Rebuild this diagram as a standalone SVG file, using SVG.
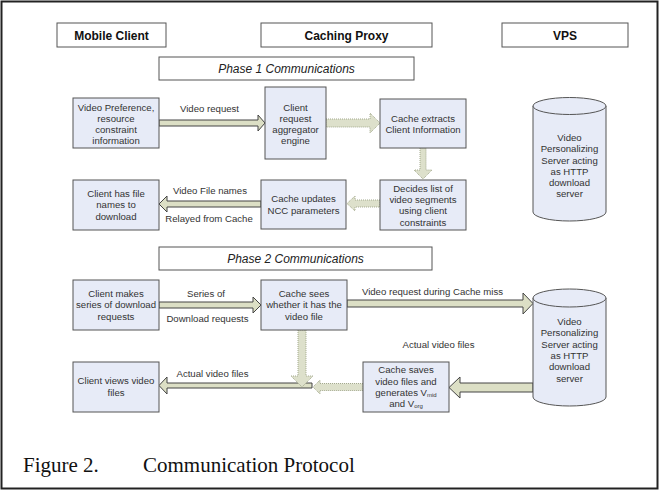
<svg xmlns="http://www.w3.org/2000/svg" width="660" height="492" viewBox="0 0 660 492">
<style>
.hdr{fill:#fff;stroke:#555;stroke-width:1}
.hdrt{font-family:"Liberation Sans",Arial,sans-serif;font-size:12px;font-weight:bold;fill:#111;text-anchor:middle}
.ph{fill:#fff;stroke:#555;stroke-width:1}
.pht{font-family:"Liberation Sans",Arial,sans-serif;font-size:12px;font-style:italic;fill:#222;text-anchor:middle}
.box{fill:#e7ebf7;stroke:#555;stroke-width:1}
.t{font-family:"Liberation Sans",Arial,sans-serif;font-size:9.6px;fill:#333;text-anchor:middle}
.lbl{font-family:"Liberation Sans",Arial,sans-serif;font-size:9.6px;fill:#333;text-anchor:middle}
.sub{font-size:6px}
.arr{fill:#dcdfc5;stroke:#444;stroke-width:1;stroke-linejoin:miter}
.darr{fill:#dde0cb;stroke:#a3a98d;stroke-width:1;stroke-dasharray:1 1}
.cap{font-family:"Liberation Serif","Times New Roman",serif;font-size:21px;fill:#111}
</style>
<rect x="1.5" y="1.5" width="656" height="487" fill="#fff" stroke="#222" stroke-width="2"/>

<g id="hdr-mobile"><rect class="hdr" x="57" y="23" width="109" height="24"/><text class="hdrt" x="111.5" y="39.5">Mobile Client</text></g>
<g id="hdr-proxy"><rect class="hdr" x="261" y="23" width="171" height="24"/><text class="hdrt" x="346.5" y="39.5">Caching Proxy</text></g>
<g id="hdr-vps"><rect class="hdr" x="502" y="23" width="126" height="24"/><text class="hdrt" x="565" y="39.5">VPS</text></g>

<g id="phase1"><rect class="ph" x="159" y="57" width="255" height="23"/><text class="pht" x="286.5" y="72.5">Phase 1 Communications</text></g>
<g id="phase2"><rect class="ph" x="159" y="247" width="273" height="23"/><text class="pht" x="295.5" y="262.5">Phase 2 Communications</text></g>

<g id="connectors">
<path class="arr" d="M159,120 H258 V115 L265,123 L258,131 V126 H159 Z"/>
<path class="arr" d="M261,201 H167 V196 L159,204 L167,212 V207 H261 Z"/>
<path class="arr" d="M159,302 H253 V297 L261,305 L253,313 V308 H159 Z"/>
<path class="arr" d="M347,300 H523 V293 L533,303.5 L523,314 V307 H347 Z"/>
<path class="arr" d="M533,383 H460 V377 L449,387.5 L460,398 V392 H533 Z"/>
<path class="arr" d="M312,383 H167 V377 L159,385.5 L167,394 V388 H312 Z"/>
<path class="darr" d="M326,119 H370 V113 L380,123 L370,133 V127 H326 Z"/>
<path class="darr" d="M420,148 V170 H414 L423,179 L432,170 H426 V148 Z"/>
<path class="darr" d="M380,200 H355 V196 L347,203.5 L355,211 V207 H380 Z"/>
<path class="darr" d="M298,330 V376 H291 L302,387 L313,376 H306 V330 Z"/>
<path class="darr" d="M363,383.5 H320 V380 L313,387 L320,394 V390.5 H363 Z"/>
<text class="lbl" x="209.5" y="111.5">Video request</text>
<text class="lbl" x="210" y="193.5">Video File names</text>
<text class="lbl" x="209" y="221.5">Relayed from Cache</text>
<text class="lbl" x="206" y="296.5">Series of</text>
<text class="lbl" x="207.5" y="321.5">Download requests</text>
<text class="lbl" x="212.5" y="376.5">Actual video files</text>
<text class="lbl" x="432.5" y="294.5">Video request during Cache miss</text>
<text class="lbl" x="438.5" y="347.5">Actual video files</text>
</g>

<g id="n-pref"><rect class="box" x="73" y="98" width="86" height="50"/>
<text class="t" x="116" y="110.5">Video Preference,</text><text class="t" x="116" y="121.5">resource</text><text class="t" x="116" y="132.5">constraint</text><text class="t" x="116" y="143.5">information</text></g>
<g id="n-agg"><rect class="box" x="265" y="87" width="61" height="72"/>
<text class="t" x="295.5" y="110.5">Client</text><text class="t" x="295.5" y="121.5">request</text><text class="t" x="295.5" y="132.5">aggregator</text><text class="t" x="295.5" y="143.5">engine</text></g>
<g id="n-extract"><rect class="box" x="380" y="99" width="86" height="49"/>
<text class="t" x="423" y="122">Cache extracts</text><text class="t" x="423" y="133">Client Information</text></g>
<g id="n-decide"><rect class="box" x="380" y="180" width="86" height="50"/>
<text class="t" x="423" y="191.5">Decides list of</text><text class="t" x="423" y="203">video segments</text><text class="t" x="423" y="214">using client</text><text class="t" x="423" y="225.5">constraints</text></g>
<g id="n-ncc"><rect class="box" x="261" y="180" width="85" height="49"/>
<text class="t" x="303.5" y="202">Cache updates</text><text class="t" x="303.5" y="213.5">NCC parameters</text></g>
<g id="n-files"><rect class="box" x="73" y="180" width="86" height="50"/>
<text class="t" x="116" y="197">Client has file</text><text class="t" x="116" y="208">names to</text><text class="t" x="116" y="219.5">download</text></g>

<g id="vps1">
<path class="box" d="M533,106 V212 A36.5,9 0 0 0 606,212 V106 Z"/>
<ellipse class="box" cx="569.5" cy="106" rx="36.5" ry="8.5"/>
<text class="t" x="569.5" y="141">Video</text><text class="t" x="569.5" y="152">Personalizing</text><text class="t" x="569.5" y="163.5">Server acting</text><text class="t" x="569.5" y="174.5">as HTTP</text><text class="t" x="569.5" y="185.5">download</text><text class="t" x="569.5" y="197">server</text>
</g>

<g id="n-req"><rect class="box" x="73" y="280" width="86" height="50"/>
<text class="t" x="116" y="297">Client makes</text><text class="t" x="116" y="308">series of download</text><text class="t" x="116" y="319.5">requests</text></g>
<g id="n-sees"><rect class="box" x="261" y="280" width="86" height="50"/>
<text class="t" x="304" y="297">Cache sees</text><text class="t" x="304" y="308">whether it has the</text><text class="t" x="304" y="319.5">video file</text></g>
<g id="n-views"><rect class="box" x="73" y="362" width="86" height="50"/>
<text class="t" x="116" y="383.5">Client views video</text><text class="t" x="116" y="395.5">files</text></g>
<g id="n-saves"><rect class="box" x="363" y="362" width="86" height="50"/>
<text class="t" x="406" y="373">Cache saves</text><text class="t" x="406" y="384.5">video files and</text><text class="t" x="406" y="395.5">generates V<tspan class="sub" dy="1.5">mid</tspan></text><text class="t" x="406" y="406.5">and V<tspan class="sub" dy="1.5">org</tspan></text></g>

<g id="vps2">
<path class="box" d="M533,298 V397 A36.5,9 0 0 0 606,397 V298 Z"/>
<ellipse class="box" cx="569.5" cy="298" rx="36.5" ry="9"/>
<text class="t" x="569.5" y="325">Video</text><text class="t" x="569.5" y="336">Personalizing</text><text class="t" x="569.5" y="347.5">Server acting</text><text class="t" x="569.5" y="359">as HTTP</text><text class="t" x="569.5" y="370">download</text><text class="t" x="569.5" y="381.5">server</text>
</g>

<g id="caption"><text class="cap" x="23" y="472">Figure 2.</text><text class="cap" x="143" y="472">Communication Protocol</text></g>
</svg>
